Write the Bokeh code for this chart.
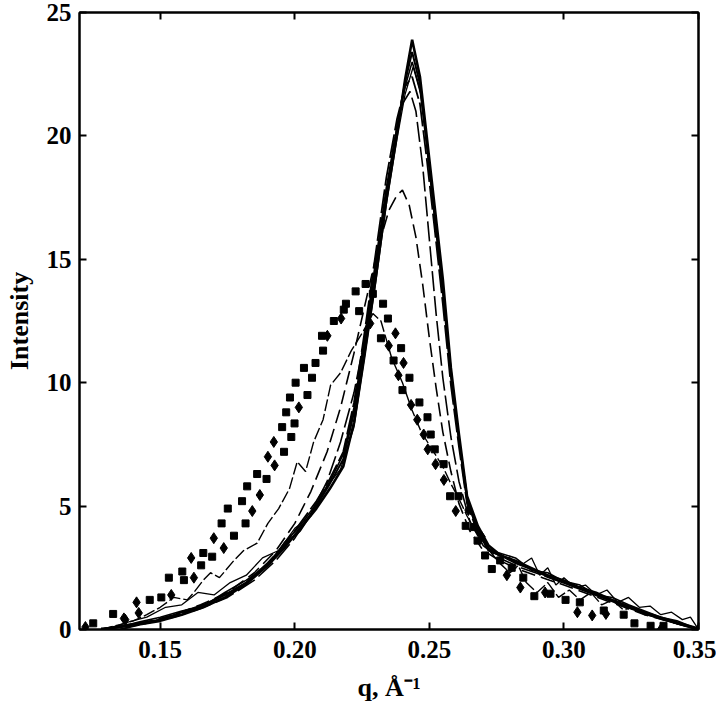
from bokeh.plotting import figure
from bokeh.models import LinearAxis, Range1d, FixedTicker, CustomJSTickFormatter
from bokeh.embed import file_html
from bokeh.resources import INLINE

# ---- data ----
x_ticks = [0.15, 0.20, 0.25, 0.30, 0.35]
x_tick_labels = ["0.15", "0.20", "0.25", "0.30", "0.35"]
y_ticks = [0, 5, 10, 15, 20, 25]

q_solid = [0.128, 0.135, 0.142, 0.150, 0.158, 0.166, 0.174, 0.182, 0.190, 0.196, 0.202, 0.208, 0.213, 0.218,
           0.222, 0.226, 0.230, 0.234, 0.238, 0.241, 0.2436, 0.2465, 0.249, 0.252, 0.255, 0.258, 0.261, 0.264,
           0.268, 0.272, 0.276, 0.282, 0.288, 0.294, 0.300, 0.306, 0.312, 0.318, 0.324, 0.330, 0.336, 0.342, 0.350]
solid1 = [0.0, 0.1, 0.2, 0.35, 0.6, 0.9, 1.3, 1.85, 2.6, 3.3, 4.1, 4.9, 5.7, 6.6, 8.4, 11.3, 14.2, 17.4, 20.1,
          22.3, 23.9, 22.4, 20.0, 17.1, 14.2, 10.6, 7.9, 5.4, 4.2, 3.4, 3.05, 2.7, 2.45, 2.15, 1.9, 1.65, 1.4,
          1.15, 0.9, 0.65, 0.45, 0.25, 0.0]
solid2 = [0.0, 0.15, 0.25, 0.4, 0.7, 1.0, 1.4, 1.9, 2.7, 3.4, 4.0, 5.0, 5.9, 6.9, 8.8, 11.6, 14.6, 17.6, 20.3,
          22.2, 23.4, 22.1, 19.8, 16.8, 13.9, 10.4, 7.7, 5.3, 4.1, 3.3, 3.0, 2.8, 2.5, 2.2, 2.0, 1.7, 1.5, 1.2,
          0.95, 0.7, 0.5, 0.3, 0.05]
solid3 = [0.05, 0.1, 0.3, 0.5, 0.75, 0.95, 1.5, 2.0, 2.6, 3.5, 4.2, 5.1, 6.0, 7.1, 9.0, 11.9, 14.9, 17.9, 20.4,
          22.0, 23.0, 21.9, 19.6, 16.6, 13.6, 10.2, 7.6, 5.2, 4.0, 3.2, 3.1, 2.9, 2.4, 2.3, 1.95, 1.8, 1.4, 1.3,
          1.0, 0.75, 0.5, 0.35, 0.0]
dash4 = [0.0, 0.1, 0.25, 0.4, 0.65, 0.95, 1.4, 1.9, 2.7, 3.4, 4.3, 5.2, 6.1, 7.2, 9.2, 12.1, 15.2, 18.3, 20.7,
         22.0, 22.4, 21.3, 19.1, 16.2, 13.2, 9.9, 7.4, 5.1, 3.9, 3.2, 3.0, 2.75, 2.45, 2.2, 1.95, 1.7, 1.45, 1.2,
         0.9, 0.65, 0.45, 0.25, 0.0]

q_solid4 = [0.130, 0.138, 0.145, 0.152, 0.158, 0.164, 0.170, 0.176, 0.182, 0.188, 0.194, 0.200, 0.206, 0.212,
            0.217, 0.222, 0.226, 0.230, 0.234, 0.238, 0.241, 0.2440, 0.247, 0.2495, 0.2525, 0.2555, 0.2585,
            0.2615, 0.2645, 0.268, 0.272, 0.276, 0.280, 0.284, 0.288, 0.291, 0.294, 0.297, 0.300, 0.304, 0.308,
            0.312, 0.316, 0.320, 0.324, 0.328, 0.332, 0.336, 0.340, 0.344, 0.347, 0.350]
solid4 = [0.0, 0.3, 0.5, 0.9, 1.0, 1.5, 1.4, 1.9, 2.2, 2.9, 3.2, 4.1, 4.6, 5.8, 6.5, 8.2, 11.0, 14.0, 17.2, 19.9,
          21.7, 22.8, 21.6, 19.4, 16.4, 13.3, 10.1, 7.4, 5.1, 3.9, 3.2, 3.0, 2.9, 2.6, 2.9, 2.2, 2.5, 1.8, 2.1,
          1.7, 1.8, 1.4, 1.6, 1.1, 1.3, 0.9, 0.95, 0.6, 0.7, 0.4, 0.5, 0.0]

q_dash2 = [0.135, 0.145, 0.155, 0.165, 0.175, 0.185, 0.193, 0.200, 0.206, 0.212, 0.217, 0.222, 0.227, 0.231,
           0.235, 0.238, 0.240, 0.2425, 0.245, 0.2475, 0.250, 0.2525, 0.255, 0.258, 0.261, 0.265, 0.270, 0.276,
           0.284, 0.292, 0.300, 0.310, 0.320, 0.330, 0.340, 0.350]
dash2 = [0.0, 0.3, 0.6, 1.0, 1.5, 2.3, 3.2, 4.3, 5.6, 7.2, 9.0, 11.2, 13.6, 15.5, 17.0, 17.6, 17.8, 17.2, 15.9,
         14.0, 11.8, 9.8, 8.0, 6.4, 5.1, 4.0, 3.2, 2.8, 2.4, 2.1, 1.8, 1.4, 1.0, 0.6, 0.3, 0.0]

q_dash3 = [0.135, 0.145, 0.155, 0.165, 0.175, 0.185, 0.193, 0.200, 0.206, 0.212, 0.217, 0.222, 0.226, 0.230,
           0.234, 0.237, 0.240, 0.2428, 0.245, 0.2475, 0.250, 0.2525, 0.255, 0.258, 0.261, 0.265, 0.270, 0.276,
           0.284, 0.292, 0.300, 0.310, 0.320, 0.330, 0.340, 0.350]
dash3 = [0.0, 0.25, 0.5, 0.85, 1.3, 2.0, 2.8, 3.7, 4.7, 6.0, 7.6, 9.6, 11.8, 14.5, 17.5, 19.8, 21.3, 21.8, 21.0,
         18.8, 15.8, 12.8, 10.2, 7.8, 6.0, 4.4, 3.4, 2.9, 2.5, 2.2, 1.9, 1.5, 1.05, 0.65, 0.3, 0.0]

q_dash1 = [0.128, 0.135, 0.140, 0.145, 0.150, 0.155, 0.160, 0.1625, 0.166, 0.1687, 0.172, 0.1774, 0.181, 0.186,
           0.190, 0.194, 0.198, 0.2009, 0.204, 0.207, 0.2105, 0.2133, 0.217, 0.221, 0.2255, 0.229, 0.232, 0.236,
           0.240, 0.2435, 0.247, 0.251, 0.255, 0.258, 0.261, 0.264, 0.267, 0.270, 0.273, 0.276, 0.280, 0.283,
           0.286, 0.290, 0.294, 0.298, 0.302, 0.306, 0.310, 0.314, 0.318, 0.322, 0.326, 0.330, 0.335, 0.340,
           0.345, 0.350]
dash1 = [0.0, 0.2, 0.35, 0.6, 0.9, 1.3, 1.2, 1.5, 2.0, 2.3, 2.1, 2.8, 3.2, 3.5, 4.3, 4.9, 5.7, 6.8, 6.4, 7.6,
         8.5, 9.9, 10.4, 11.3, 12.1, 12.8, 12.5, 11.0, 10.0, 8.9, 8.0, 7.3, 6.6, 5.9, 5.3, 4.6, 4.0, 3.6, 3.1,
         2.7, 2.3, 2.6, 1.9, 1.5, 1.9, 1.3, 1.6, 1.2, 1.5, 1.0, 1.2, 0.8, 0.9, 0.6, 0.5, 0.35, 0.2, 0.0]

q_squares = [0.1251, 0.1325, 0.1461, 0.1504, 0.1532, 0.1582, 0.1588, 0.1652, 0.166, 0.1693, 0.1728, 0.1751,
             0.1774, 0.1804, 0.1817, 0.1823, 0.186, 0.1895, 0.1953, 0.196, 0.1968, 0.1982, 0.1987, 0.1999,
             0.2003, 0.2034, 0.2047, 0.2064, 0.2077, 0.2101, 0.2105, 0.2145, 0.2182, 0.219, 0.2226, 0.2239,
             0.2263, 0.229, 0.2328, 0.232, 0.2346, 0.2367, 0.2395, 0.240, 0.2426, 0.2463, 0.2493, 0.2505,
             0.252, 0.2553, 0.2577, 0.2608, 0.2635, 0.2666, 0.2679, 0.2707, 0.2732, 0.2763, 0.2806, 0.2849,
             0.289, 0.295, 0.3006, 0.3059, 0.3148, 0.3222, 0.3262, 0.3322, 0.337]
i_squares = [0.25, 0.63, 1.2, 1.3, 2.1, 2.35, 2.0, 2.6, 3.1, 2.95, 4.3, 4.9,
             3.8, 5.2, 4.3, 5.8, 6.3, 6.1, 8.2, 7.2, 8.8, 9.4, 7.8, 8.35,
             10.0, 10.6, 9.5, 10.2, 10.8, 11.9, 11.3, 12.5, 12.96, 13.2, 13.7, 12.9,
             14.0, 13.6, 13.2, 11.8, 12.6, 10.9, 11.4, 9.7, 10.2, 9.2, 8.6, 7.9,
             7.3, 6.7, 5.4, 5.4, 4.2, 4.15, 3.6, 3.0, 2.45, 2.8, 2.5, 2.1,
             1.35, 1.45, 1.2, 1.1, 0.77, 0.6, 0.25, 0.15, 0.15]

q_diamonds = [0.1222, 0.137, 0.1365, 0.142, 0.1412, 0.1541, 0.1615, 0.1625, 0.1699, 0.1736, 0.1842, 0.187,
              0.19, 0.1922, 0.1925, 0.2015, 0.2121, 0.2172, 0.228, 0.2349, 0.2374, 0.2385, 0.2404, 0.2432,
              0.2455, 0.2479, 0.2494, 0.2523, 0.2554, 0.2598, 0.2645, 0.2694, 0.2788, 0.2838, 0.293, 0.305,
              0.3105, 0.3156, 0.336, 0.35]
i_diamonds = [0.1, 0.4, 0.45, 0.67, 1.1, 1.4, 2.9, 2.1, 3.7, 3.3, 4.8, 5.45,
              7.0, 7.6, 6.65, 9.0, 11.9, 12.6, 12.4, 11.5, 12.0, 10.3, 10.8, 9.1,
              8.5, 7.9, 7.3, 6.7, 6.06, 4.8, 4.84, 3.76, 2.2, 1.7, 1.5, 0.7,
              0.57, 0.63, 0.0, 0.0]

FONT = "Liberation Serif"

p = figure(width=716, height=712, x_range=Range1d(0.12, 0.35), y_range=Range1d(0, 25),
           output_backend="svg", toolbar_location=None,
           min_border_left=79, min_border_right=18, min_border_top=12, min_border_bottom=83)
p.grid.visible = False
p.outline_line_color = "black"
p.outline_line_width = 2
p.background_fill_color = "white"
p.border_fill_color = "white"

# curves
p.line(q_dash1, dash1, line_color="black", line_width=1.4, line_dash="12 3")
p.line(q_dash2, dash2, line_color="black", line_width=1.6, line_dash="14 6")
p.line(q_dash3, dash3, line_color="black", line_width=1.6, line_dash="20 5")
p.line(q_solid, dash4, line_color="black", line_width=1.8, line_dash="24 4")
p.line(q_solid4, solid4, line_color="black", line_width=1.3)
p.line(q_solid, solid3, line_color="black", line_width=1.6)
p.line(q_solid, solid2, line_color="black", line_width=2.0)
p.line(q_solid, solid1, line_color="black", line_width=2.6)

p.scatter(q_squares, i_squares, marker="square", size=7, fill_color="black", line_color="black")
p.scatter(q_diamonds, i_diamonds, marker="diamond", size=11, fill_color="black", line_color="black")

def style_axis(ax, labels=True):
    ax.axis_line_width = 2
    ax.axis_line_color = "black"
    ax.major_tick_in = 7
    ax.major_tick_out = 0
    ax.major_tick_line_width = 2
    ax.minor_tick_in = 0
    ax.minor_tick_out = 0
    ax.major_label_text_font = FONT
    ax.major_label_text_font_style = "bold"
    ax.major_label_text_font_size = "25px"
    ax.major_label_text_color = "black"
    ax.axis_label_text_font = FONT
    ax.axis_label_text_font_style = "bold"
    ax.axis_label_text_font_size = "26px"
    ax.axis_label_text_color = "black"
    if not labels:
        ax.formatter = CustomJSTickFormatter(code="return ''")

xa = p.xaxis[0]
xa.ticker = FixedTicker(ticks=x_ticks)
xa.major_label_overrides = dict(zip(x_ticks, x_tick_labels))
xa.axis_label = "q, Å⁻¹"
xa.major_label_standoff = 11
xa.axis_label_standoff = 12
style_axis(xa)

ya = p.yaxis[0]
ya.ticker = FixedTicker(ticks=y_ticks)
ya.axis_label = "Intensity"
ya.major_label_standoff = 8
ya.axis_label_standoff = 10
style_axis(ya)

top = LinearAxis(ticker=FixedTicker(ticks=x_ticks))
style_axis(top, labels=False)
p.add_layout(top, "above")
right = LinearAxis(ticker=FixedTicker(ticks=y_ticks))
style_axis(right, labels=False)
p.add_layout(right, "right")

open("out.html", "w").write(file_html(p, INLINE))
